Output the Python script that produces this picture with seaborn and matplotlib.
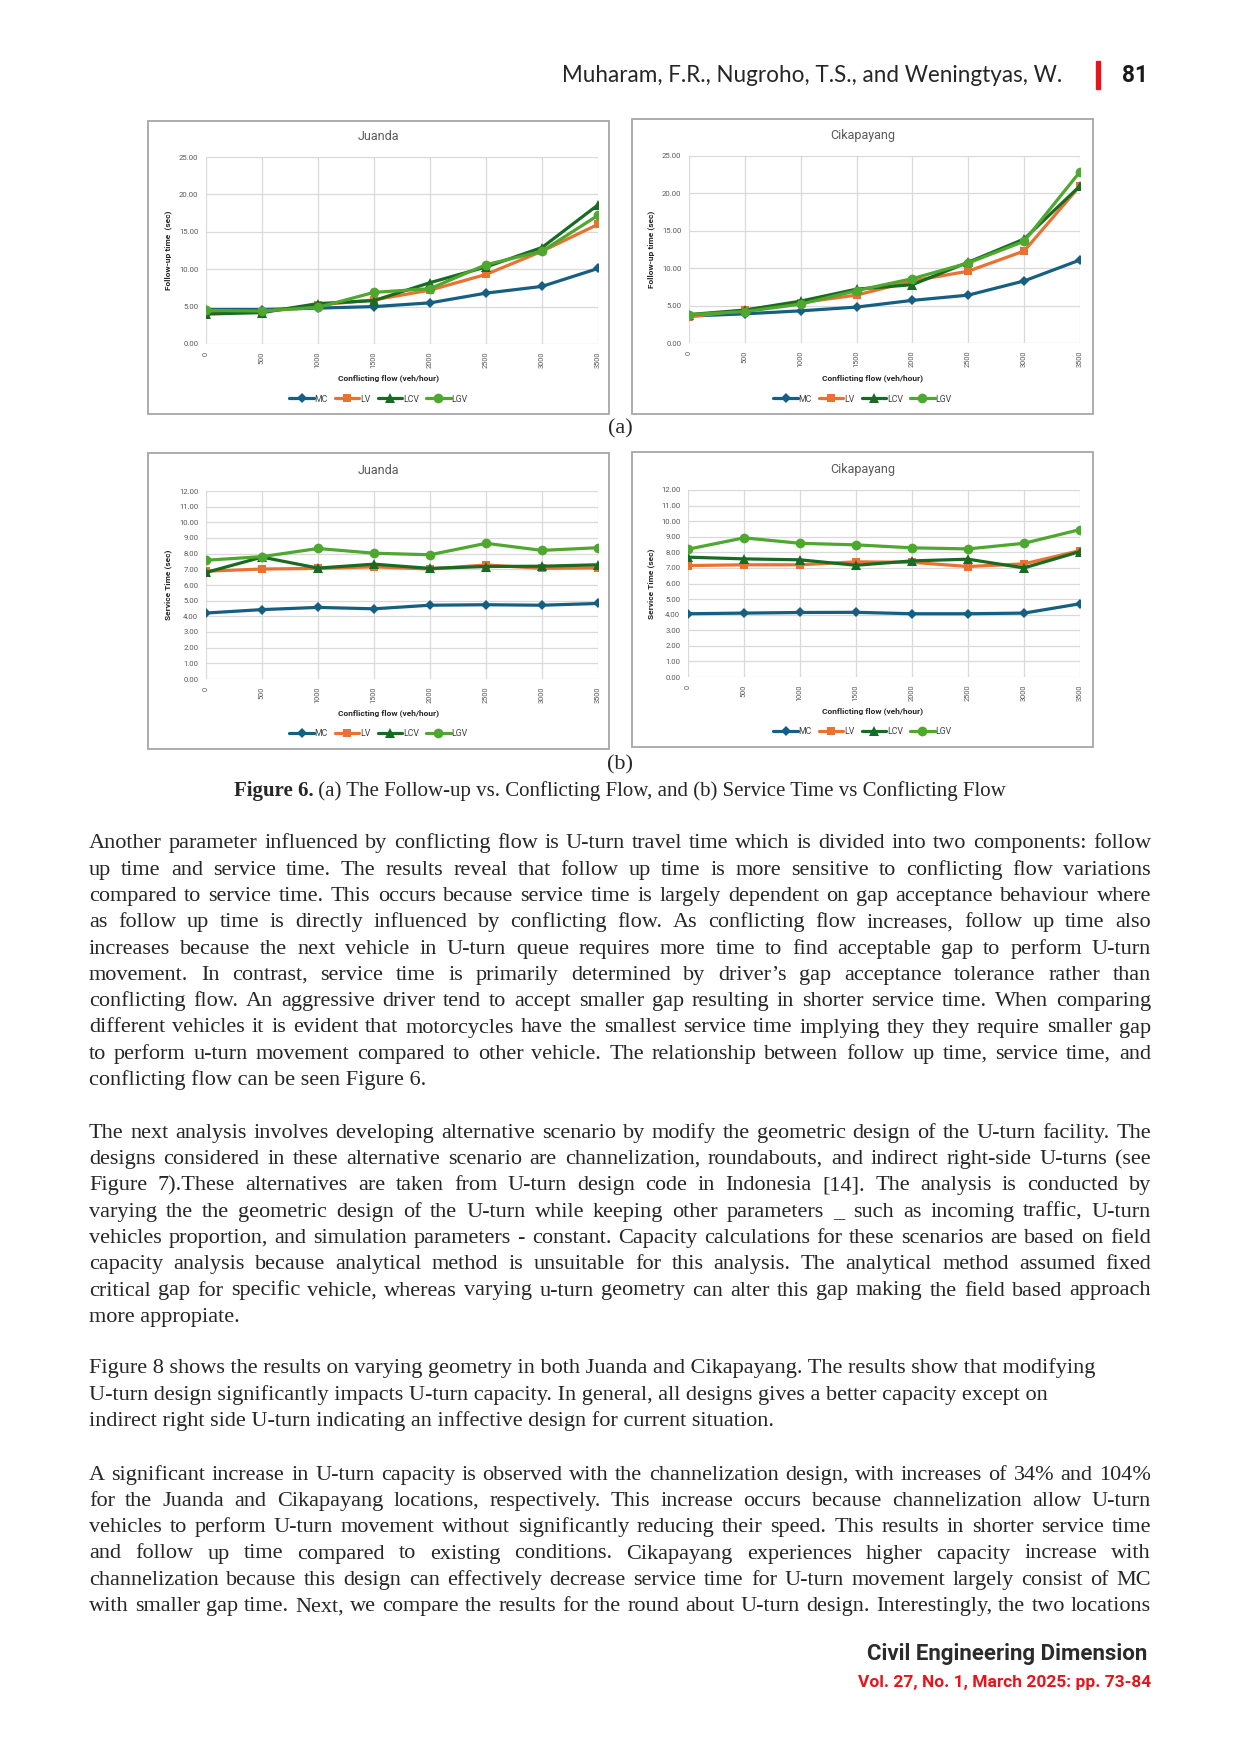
import numpy as np
import pandas as pd
import matplotlib
matplotlib.use("Agg")
import matplotlib.pyplot as plt
from matplotlib.patches import Rectangle
import seaborn as sns

# ------------------------------------------
# Data
# ------------------------------------------
flows = [0, 500, 1000, 1500, 2000, 2500, 3000, 3500]
vehicles = ["MC", "LV", "LCV", "LGV"]

# (a) follow-up time, Juanda
juanda_fu_mc = [4.6, 4.6, 4.8, 5.0, 5.5, 6.8, 7.7, 10.1]
juanda_fu_lv = [4.2, 4.3, 5.2, 5.9, 7.2, 9.3, 12.4, 16.0]
juanda_fu_lcv = [4.0, 4.2, 5.4, 5.8, 8.2, 10.3, 12.9, 18.6]
juanda_fu_lgv = [4.5, 4.4, 4.9, 6.9, 7.4, 10.6, 12.4, 17.2]

# (a) follow-up time, Cikapayang
cika_fu_mc = [3.6, 3.9, 4.3, 4.8, 5.7, 6.4, 8.3, 11.1]
cika_fu_lv = [3.5, 4.4, 5.4, 6.4, 8.3, 9.6, 12.3, 21.0]
cika_fu_lcv = [3.8, 4.4, 5.6, 7.2, 7.8, 10.8, 13.9, 21.0]
cika_fu_lgv = [3.8, 4.2, 5.2, 7.0, 8.6, 10.7, 13.6, 22.9]

# (b) service time, Juanda
juanda_st_mc = [4.21, 4.43, 4.57, 4.48, 4.71, 4.74, 4.71, 4.82]
juanda_st_lv = [6.88, 7.02, 7.06, 7.16, 7.02, 7.28, 7.06, 7.10]
juanda_st_lcv = [6.80, 7.78, 7.08, 7.33, 7.06, 7.18, 7.20, 7.29]
juanda_st_lgv = [7.58, 7.81, 8.33, 8.03, 7.93, 8.66, 8.21, 8.38]

# (b) service time, Cikapayang
cika_st_mc = [4.06, 4.10, 4.14, 4.15, 4.06, 4.06, 4.10, 4.70]
cika_st_lv = [7.15, 7.20, 7.20, 7.39, 7.36, 7.09, 7.26, 8.11]
cika_st_lcv = [7.69, 7.58, 7.52, 7.17, 7.45, 7.56, 7.00, 8.05]
cika_st_lgv = [8.20, 8.93, 8.58, 8.48, 8.29, 8.22, 8.58, 9.46]

colors = {"MC": "#156082", "LV": "#E97132", "LCV": "#196B24", "LGV": "#4EA72E"}
markers = {"MC": "D", "LV": "s", "LCV": "^", "LGV": "o"}
msizes = {"MC": 5.6, "LV": 6.2, "LCV": 7.2, "LGV": 7.0}


def long_form(mc, lv, lcv, lgv):
    parts = []
    for name, vals in zip(vehicles, [mc, lv, lcv, lgv]):
        parts.append(pd.DataFrame({"flow": flows, "time": vals, "vehicle": name}))
    return pd.concat(parts, ignore_index=True)


df_juanda_fu = long_form(juanda_fu_mc, juanda_fu_lv, juanda_fu_lcv, juanda_fu_lgv)
df_cika_fu = long_form(cika_fu_mc, cika_fu_lv, cika_fu_lcv, cika_fu_lgv)
df_juanda_st = long_form(juanda_st_mc, juanda_st_lv, juanda_st_lcv, juanda_st_lgv)
df_cika_st = long_form(cika_st_mc, cika_st_lv, cika_st_lcv, cika_st_lgv)

# ------------------------------------------
# Page setup
# ------------------------------------------
sns.set_style("white")
SERIF = "Liberation Serif"
SANS = "Roboto"
plt.rcParams["font.family"] = [SANS, "DejaVu Sans"]

W, H = 1240, 1754
fig = plt.figure(figsize=(W / 100, H / 100), dpi=100)
fig.patch.set_facecolor("white")
renderer = fig.canvas.get_renderer()


def fx(x):
    return x / W


def fy(y):
    return 1 - y / H


def draw_chart(frame, box, title, ylabel, data, ymax, ystep, title_y, xlab_y, leg_y, ylab_x):
    x0, y0, x1, y1 = frame
    fig.patches.append(Rectangle((fx(x0), fy(y1)), (x1 - x0) / W, (y1 - y0) / H,
                                 transform=fig.transFigure, fill=False,
                                 ec="#a6a6a6", lw=1.3))
    ax0, ay0, ax1, ay1 = box
    ax = fig.add_axes([fx(ax0), fy(ay1), (ax1 - ax0) / W, (ay1 - ay0) / H])
    for name in vehicles:
        sub = data[data["vehicle"] == name]
        sns.lineplot(data=sub, x="flow", y="time", ax=ax, color=colors[name],
                     marker=markers[name], markersize=msizes[name], markeredgewidth=0,
                     linewidth=2.3, label=name, errorbar=None)
    ax.set_xlim(flows[0], flows[-1])
    ax.set_ylim(0, ymax)
    ax.set_xticks(flows)
    ax.set_xticklabels([str(f) for f in flows], rotation=90, fontsize=5.3, color="#595959")
    yt = np.arange(0, ymax + ystep / 2, ystep)
    ax.set_yticks(yt)
    ax.set_yticklabels([f"{v:.2f}" for v in yt], fontsize=5.6, color="#595959")
    ax.tick_params(length=0, pad=5.5)
    ax.grid(True, color="#d9d9d9", lw=0.9)
    for s in ax.spines.values():
        s.set_visible(False)
    ax.set_xlabel("")
    ax.set_ylabel("")
    cx = (x0 + x1) / 2
    fig.text(fx(cx), fy(title_y), title, fontsize=9, color="#595959", ha="center", va="center")
    fig.text(fx(cx + 10), fy(xlab_y), "Conflicting flow (veh/hour)", fontsize=6,
             fontweight="bold", color="#262626", ha="center", va="center")
    fig.text(fx(ylab_x), fy((ay0 + ay1) / 2), ylabel, fontsize=6, fontweight="bold",
             color="#262626", ha="center", va="center", rotation=90)
    ax.legend(loc="center", bbox_to_anchor=(fx(cx), fy(leg_y)), bbox_transform=fig.transFigure,
              ncol=4, frameon=False, fontsize=6.3, handlelength=2.8, handletextpad=0.1,
              columnspacing=0.8, labelcolor="#404040")
    return ax


draw_chart((148, 121, 609, 414), (206, 157, 598, 344), "Juanda", "Follow-up time  (sec)",
           df_juanda_fu, 25, 5, 137, 378, 399, 168)
draw_chart((632, 119, 1093, 414), (689, 156, 1080, 343), "Cikapayang", "Follow-up time (sec)",
           df_cika_fu, 25, 5, 135, 378, 399, 651)
draw_chart((148, 453, 609, 749), (206, 491, 598, 679), "Juanda", "Service Time (sec)",
           df_juanda_st, 12, 1, 471, 713, 734, 168)
draw_chart((632, 452, 1093, 747), (688, 490, 1080, 677), "Cikapayang", "Service Time (sec)",
           df_cika_st, 12, 1, 469, 711, 732, 651)

# ------------------------------------------
# Header / footer
# ------------------------------------------


def fit_text(s, x0, x1, y, **kw):
    t = fig.text(fx(x0), fy(y), s, fontsize=10, ha="left", va="center", **kw)
    w = t.get_window_extent(renderer).width
    t.set_fontsize(10 * (x1 - x0) / w)
    return t


fit_text("Muharam, F.R., Nugroho, T.S., and Weningtyas, W.", 562, 1061, 76,
         family="Lato", color="#262626")
fig.patches.append(Rectangle((fx(1096), fy(89)), 4 / W, 28 / H, transform=fig.transFigure,
                             color="#e8141b"))
fit_text("81", 1122, 1148, 75, family="Roboto", fontweight="bold", color="#1a1a1a")
fit_text("Civil Engineering Dimension", 867, 1148, 1654, family="Roboto",
         fontweight="bold", color="#2b2b2b")
fit_text("Vol. 27, No. 1, March 2025: pp. 73-84", 858, 1150, 1682, family="Roboto",
         fontweight="bold", color="#e8141b")

# ------------------------------------------
# Body text
# ------------------------------------------
TX0, TX1 = 89, 1151
LEAD = 26.3

p1 = [
    "Another parameter influenced by conflicting flow is U-turn travel time which is divided into two components: follow",
    "up time and service time. The results reveal that follow up time is more sensitive to conflicting flow variations",
    "compared to service time. This occurs because service time is largely dependent on gap acceptance behaviour where",
    "as follow up time is directly influenced by conflicting flow. As conflicting flow increases, follow up time also",
    "increases because the next vehicle in U-turn queue requires more time to find acceptable gap to perform U-turn",
    "movement. In contrast, service time is primarily determined by driver\u2019s gap acceptance tolerance rather than",
    "conflicting flow. An aggressive driver tend to accept smaller gap resulting in shorter service time. When comparing",
    "different vehicles it is evident that motorcycles have the smallest service time implying they they require smaller gap",
    "to perform u-turn movement compared to other vehicle. The relationship between  follow up time, service time, and",
    "conflicting flow can be seen Figure 6.",
]
p2 = [
    "The next analysis involves developing alternative scenario by modify the geometric design of the U-turn facility. The",
    "designs considered in these alternative scenario are channelization, roundabouts, and indirect right-side U-turns (see",
    "Figure 7).These alternatives are taken from U-turn design code in Indonesia [14]. The analysis is conducted by",
    "varying the the geometric design of the U-turn while keeping other parameters _ such as incoming traffic, U-turn",
    "vehicles proportion, and simulation parameters - constant. Capacity calculations for these scenarios are based on field",
    "capacity analysis because analytical method is unsuitable for this analysis. The analytical method assumed fixed",
    "critical gap for specific vehicle, whereas varying u-turn geometry can alter this gap making the field based approach",
    "more appropiate.",
]
p3 = [
    "Figure 8 shows the results on varying geometry in both Juanda and Cikapayang. The results show that modifying",
    "U-turn design significantly impacts U-turn capacity. In general, all designs gives a better capacity except on",
    "indirect right side U-turn indicating an inffective design for current situation.",
]
p4 = [
    "A significant increase in U-turn capacity is observed with the channelization design, with increases of 34% and 104%",
    "for the Juanda and Cikapayang locations, respectively. This increase occurs because channelization allow U-turn",
    "vehicles to perform U-turn movement without significantly reducing their speed. This results in shorter service time",
    "and follow up time compared to existing conditions. Cikapayang experiences higher capacity increase with",
    "channelization because this design can effectively decrease service time for U-turn movement largely consist of MC",
    "with smaller gap time. Next, we compare the results for the round about U-turn design. Interestingly, the two locations",
]

# pick a body size so the tightest justified line still fits
ratios = []
for line in p1[:-1] + p2[:-1] + p4:
    t = fig.text(0, 0, line, fontsize=16, family=SERIF)
    ratios.append((TX1 - TX0) / t.get_window_extent(renderer).width)
    t.remove()
BODY = min(16.5, 16 * min(ratios) * 0.995)


def paragraph(lines, y0, justify_last=False, justify=True):
    for i, line in enumerate(lines):
        yb = fy(y0 + i * LEAD + 5)
        last = i == len(lines) - 1
        if not justify or (last and not justify_last):
            fig.text(fx(TX0), yb, line, fontsize=BODY, family=SERIF, ha="left", va="baseline")
            continue
        words = line.split()
        texts = [fig.text(0, yb, w, fontsize=BODY, family=SERIF, ha="left", va="baseline")
                 for w in words]
        widths = [t.get_window_extent(renderer).width for t in texts]
        gap = (TX1 - TX0 - sum(widths)) / (len(words) - 1)
        x = TX0
        for t, w in zip(texts, widths):
            t.set_x(fx(x))
            x += w + gap


paragraph(p1, 843.4)
paragraph(p2, 1132.7)
paragraph(p3, 1368.4, justify=False)
paragraph(p4, 1474.6, justify_last=True)

# sub-figure labels and caption
fig.text(fx(620), fy(428 + 5), "(a)", fontsize=BODY, family=SERIF, ha="center", va="baseline")
fig.text(fx(620), fy(764 + 5), "(b)", fontsize=BODY, family=SERIF, ha="center", va="baseline")

cap_b = fig.text(0, fy(791 + 5), "Figure 6.", fontsize=BODY, family=SERIF, fontweight="bold",
                 ha="left", va="baseline")
cap_r = fig.text(0, fy(791 + 5), " (a) The Follow-up vs. Conflicting Flow, and (b) Service Time vs Conflicting Flow",
                 fontsize=BODY, family=SERIF, ha="left", va="baseline")
wb = cap_b.get_window_extent(renderer).width
wr = cap_r.get_window_extent(renderer).width
cap_size = BODY * 772 / (wb + wr)
cap_b.set_fontsize(cap_size)
cap_r.set_fontsize(cap_size)
wb = cap_b.get_window_extent(renderer).width
wr = cap_r.get_window_extent(renderer).width
cap_x = 620 - (wb + wr) / 2
cap_b.set_x(fx(cap_x))
cap_r.set_x(fx(cap_x + wb))

fig.savefig("out.png", dpi=100, facecolor="white")
